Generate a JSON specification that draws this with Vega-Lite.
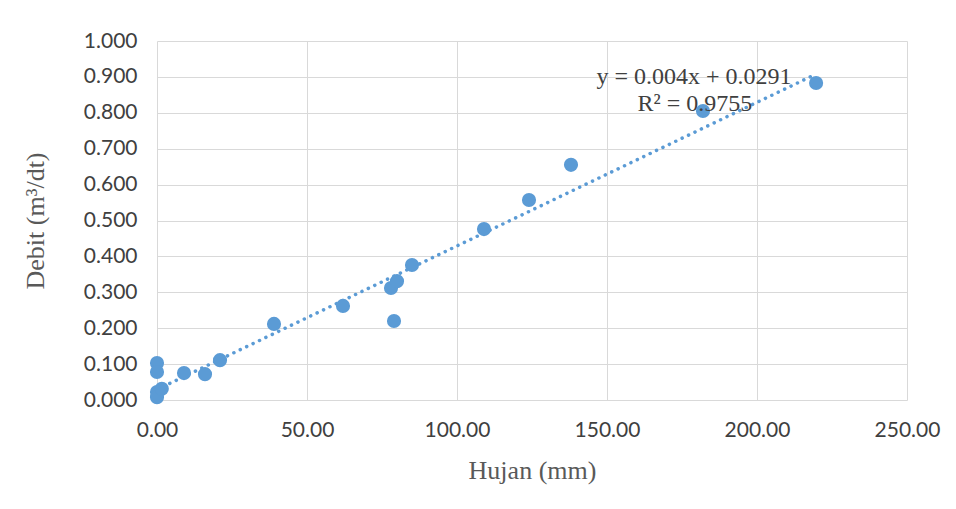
{
  "$schema": "https://vega.github.io/schema/vega-lite/v6.json",
  "autosize": "none",
  "width": 750,
  "height": 359,
  "padding": {"left": 157, "top": 41, "right": 49, "bottom": 109},
  "background": "white",
  "config": {"view": {"stroke": null}},
  "datasets": {
    "pts": [
      {"hujan": 0, "debit": 0.103},
      {"hujan": 0, "debit": 0.078},
      {"hujan": 0, "debit": 0.022},
      {"hujan": 0, "debit": 0.008},
      {"hujan": 1.6, "debit": 0.031},
      {"hujan": 9, "debit": 0.075},
      {"hujan": 16, "debit": 0.072},
      {"hujan": 21, "debit": 0.111},
      {"hujan": 39, "debit": 0.212},
      {"hujan": 62, "debit": 0.262},
      {"hujan": 78, "debit": 0.312},
      {"hujan": 80, "debit": 0.331},
      {"hujan": 79, "debit": 0.220},
      {"hujan": 85, "debit": 0.376},
      {"hujan": 109, "debit": 0.476},
      {"hujan": 124, "debit": 0.557},
      {"hujan": 138, "debit": 0.655},
      {"hujan": 182, "debit": 0.805},
      {"hujan": 219.7, "debit": 0.883}
    ],
    "trend": [
      {"hujan": 0, "debit": 0.0291},
      {"hujan": 219.7, "debit": 0.9079}
    ],
    "labels": [
      {"hujan": 179, "debit": 0.90, "text": "y = 0.004x + 0.0291"},
      {"hujan": 179.3, "debit": 0.8245, "text": "R² = 0.9755"}
    ]
  },
  "encoding": {
    "x": {"field": "hujan", "type": "quantitative", "scale": {"domain": [0, 250], "nice": false},
      "axis": {"values": [0, 50, 100, 150, 200, 250], "format": ".2f", "grid": true, "gridColor": "#d9d9d9", "gridWidth": 1, "domain": false, "ticks": false,
        "labelFlush": false, "labelOverlap": false,
        "labelFont": "Lato", "labelFontSize": 21, "labelColor": "#404040", "labelPadding": 19,
        "title": "Hujan (mm)", "titleFont": "Liberation Serif", "titleFontSize": 26, "titleFontWeight": "normal", "titleColor": "#595959", "titlePadding": 17}},
    "y": {"field": "debit", "type": "quantitative", "scale": {"domain": [0, 1], "nice": false},
      "axis": {"values": [0, 0.1, 0.2, 0.3, 0.4, 0.5, 0.6, 0.7, 0.8, 0.9, 1.0], "format": ".3f", "grid": true, "gridColor": "#d9d9d9", "gridWidth": 1, "domain": false, "ticks": false,
        "labelFlush": false, "labelOverlap": false,
        "labelFont": "Lato", "labelFontSize": 21, "labelColor": "#404040", "labelPadding": 20,
        "title": "Debit (m³/dt)", "titleFont": "Liberation Serif", "titleFontSize": 26, "titleFontWeight": "normal", "titleColor": "#595959", "titlePadding": 35}}
  },
  "layer": [
    {
      "data": {"name": "trend"},
      "mark": {"type": "line", "color": "#5b9bd5", "strokeWidth": 3.5, "strokeDash": [0.1, 7], "strokeCap": "round"}
    },
    {
      "data": {"name": "pts"},
      "mark": {"type": "circle", "color": "#5b9bd5", "opacity": 1, "size": 200}
    },
    {
      "data": {"name": "labels"},
      "mark": {"type": "text", "font": "Liberation Serif", "fontSize": 24, "color": "#404040", "align": "center", "baseline": "middle"},
      "encoding": {
        "text": {"field": "text"}
      }
    }
  ]
}
